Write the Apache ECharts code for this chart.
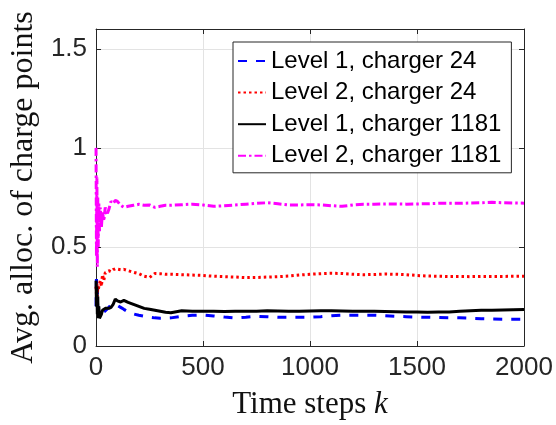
<!DOCTYPE html>
<html>
<head>
<meta charset="utf-8">
<script src="https://cdn.jsdelivr.net/npm/echarts@6/dist/echarts.min.js"></script>
<style>
  html, body { margin: 0; padding: 0; background: #fff; }
  #chart { width: 556px; height: 425px; }
</style>
</head>
<body>
<div id="chart"></div>
<script>
// Time steps k (dense near the start to follow the initial transient)
const steps = [0, 2, 4, 6, 8, 10, 13, 16, 20, 25, 30, 36, 43, 50, 60, 70, 80, 90, 100, 115, 130, 150, 175, 200, 225, 250, 275, 300, 325, 350,
  400, 450, 500, 550, 600, 650, 700, 750, 800, 850, 900, 950, 1000, 1050, 1100, 1150, 1200, 1250, 1300, 1350, 1400, 1450, 1500,
  1550, 1600, 1650, 1700, 1750, 1800, 1850, 1900, 1950, 2000];

const seriesNames = ['Level 1, charger 24', 'Level 2, charger 24', 'Level 1, charger 1181', 'Level 2, charger 1181'];

// Average allocation of charge points per level and charger
const level1Charger24 = [0.2, 0.36, 0.18, 0.3, 0.16, 0.2, 0.17, 0.15, 0.16, 0.17, 0.17, 0.17, 0.175, 0.185, 0.195, 0.21, 0.21, 0.205, 0.205, 0.195, 0.185, 0.172, 0.162, 0.155, 0.15, 0.145, 0.142, 0.14, 0.14, 0.142,
  0.15, 0.155, 0.157, 0.152, 0.146, 0.141, 0.145, 0.15, 0.148, 0.145, 0.145, 0.145, 0.145, 0.148, 0.153, 0.155, 0.155, 0.155, 0.155, 0.153, 0.15, 0.148, 0.146,
  0.145, 0.144, 0.143, 0.142, 0.14, 0.138, 0.136, 0.135, 0.135, 0.135];

const level2Charger24 = [0.3, 0.26, 0.32, 0.25, 0.3, 0.28, 0.3, 0.31, 0.33, 0.3, 0.36, 0.33, 0.37, 0.36, 0.38, 0.375, 0.385, 0.39, 0.388, 0.385, 0.387, 0.38, 0.372, 0.365, 0.352, 0.346, 0.366, 0.365, 0.362, 0.362,
  0.36, 0.358, 0.356, 0.352, 0.35, 0.348, 0.345, 0.346, 0.348, 0.35, 0.353, 0.358, 0.362, 0.365, 0.367, 0.366, 0.362, 0.36, 0.361, 0.363, 0.362, 0.36, 0.356,
  0.353, 0.352, 0.351, 0.351, 0.35, 0.351, 0.351, 0.351, 0.352, 0.352];

const level1Charger1181 = [0.33, 0.2, 0.3, 0.16, 0.25, 0.14, 0.2, 0.14, 0.13, 0.16, 0.18, 0.17, 0.19, 0.18, 0.19, 0.195, 0.21, 0.237, 0.228, 0.222, 0.23, 0.22, 0.21, 0.2, 0.19, 0.185, 0.18, 0.175, 0.17, 0.168,
  0.178, 0.176, 0.175, 0.175, 0.174, 0.176, 0.175, 0.176, 0.178, 0.177, 0.176, 0.176, 0.177, 0.178, 0.178, 0.177, 0.176, 0.175, 0.175, 0.174, 0.173, 0.172, 0.171,
  0.17, 0.171, 0.172, 0.175, 0.178, 0.18, 0.181, 0.182, 0.183, 0.184];

const level2Charger1181 = [1.0, 0.45, 0.85, 0.4, 0.75, 0.5, 0.72, 0.58, 0.7, 0.6, 0.68, 0.63, 0.7, 0.66, 0.69, 0.73, 0.72, 0.735, 0.73, 0.71, 0.7, 0.705, 0.71, 0.715, 0.71, 0.712, 0.7, 0.705, 0.71, 0.71,
  0.713, 0.716, 0.712, 0.705, 0.708, 0.712, 0.716, 0.72, 0.723, 0.718, 0.712, 0.712, 0.713, 0.712, 0.708, 0.705, 0.712, 0.716, 0.716, 0.717, 0.717, 0.716, 0.717,
  0.718, 0.72, 0.72, 0.72, 0.722, 0.723, 0.725, 0.723, 0.722, 0.721];

const xTicks = { min: 0, max: 2000, interval: 500 };
const yTicks = { min: 0, max: 1.6, interval: 0.5 };

const SANS = '"Liberation Sans", Arial, Helvetica, sans-serif';
const SERIF = '"Liberation Serif", "Times New Roman", serif';
const AXIS_COLOR = '#262626';
const GRID_COLOR = '#e3e3e3';

const pairs = vals => steps.map((k, i) => [k, vals[i]]);
const plainNumber = v => String(Math.round(v * 1000) / 1000);

const lineSeries = (name, vals, color, dash) => ({
  name,
  type: 'line',
  data: pairs(vals),
  showSymbol: false,
  symbol: 'none',
  smooth: false,
  animation: false,
  lineStyle: { color, width: 3, type: dash, cap: 'butt' },
  itemStyle: { color }
});

function xAxisDef(pos, labels) {
  return {
    type: 'value', position: pos, ...xTicks,
    axisLine: { show: true, onZero: false, lineStyle: { color: AXIS_COLOR, width: 1 } },
    axisTick: { show: true, inside: true, length: 5, lineStyle: { color: AXIS_COLOR } },
    axisLabel: { show: labels, color: AXIS_COLOR, fontFamily: SANS, fontSize: 26, margin: 9, formatter: plainNumber },
    splitLine: { show: labels, lineStyle: { color: GRID_COLOR, width: 1 } }
  };
}

function yAxisDef(pos, labels) {
  return {
    type: 'value', position: pos, ...yTicks,
    axisLine: { show: true, onZero: false, lineStyle: { color: AXIS_COLOR, width: 1 } },
    axisTick: { show: true, inside: true, length: 5, lineStyle: { color: AXIS_COLOR } },
    axisLabel: { show: labels, color: AXIS_COLOR, fontFamily: SANS, fontSize: 26, margin: 9, showMaxLabel: false, formatter: plainNumber },
    splitLine: { show: labels, lineStyle: { color: GRID_COLOR, width: 1 } }
  };
}

const chart = echarts.init(document.getElementById('chart'), null, { renderer: 'canvas' });

const xMain = xAxisDef('bottom', true);
xMain.name = 'Time steps {i|k}';
xMain.nameLocation = 'middle';
xMain.nameGap = 43;
xMain.nameTextStyle = {
  fontFamily: SERIF, fontSize: 31, color: '#111',
  rich: { i: { fontFamily: SERIF, fontSize: 31, fontStyle: 'italic', color: '#111' } }
};

const yMain = yAxisDef('left', true);
yMain.name = 'Avg. alloc. of charge points';
yMain.nameLocation = 'middle';
yMain.nameGap = 52;
yMain.nameTextStyle = { fontFamily: SERIF, fontSize: 32, color: '#111' };

chart.setOption({
  backgroundColor: '#fff',
  animation: false,
  grid: { left: 96, right: 32, top: 29, bottom: 76, containLabel: false },
  xAxis: [xMain, xAxisDef('top', false)],
  yAxis: [yMain, yAxisDef('right', false)],
  legend: {
    data: seriesNames,
    orient: 'vertical',
    left: 233,
    top: 42,
    padding: [6, 10, 4, 4],
    itemWidth: 28,
    itemHeight: 14,
    itemGap: 5.6,
    backgroundColor: '#fff',
    borderColor: AXIS_COLOR,
    borderWidth: 1,
    borderRadius: 0,
    // keep only the line sample in each legend key
    itemStyle: { opacity: 0, color: 'transparent', borderWidth: 0 },
    textStyle: { fontFamily: SANS, fontSize: 24, color: '#000', lineHeight: 26 }
  },
  series: [
    lineSeries(seriesNames[0], level1Charger24, '#0000ff', [9, 9]),
    lineSeries(seriesNames[1], level2Charger24, '#ff0000', [2.5, 3]),
    lineSeries(seriesNames[2], level1Charger1181, '#000000', 'solid'),
    lineSeries(seriesNames[3], level2Charger1181, '#ff00ff', [8, 3, 2.5, 3])
  ]
});
</script>
</body>
</html>
